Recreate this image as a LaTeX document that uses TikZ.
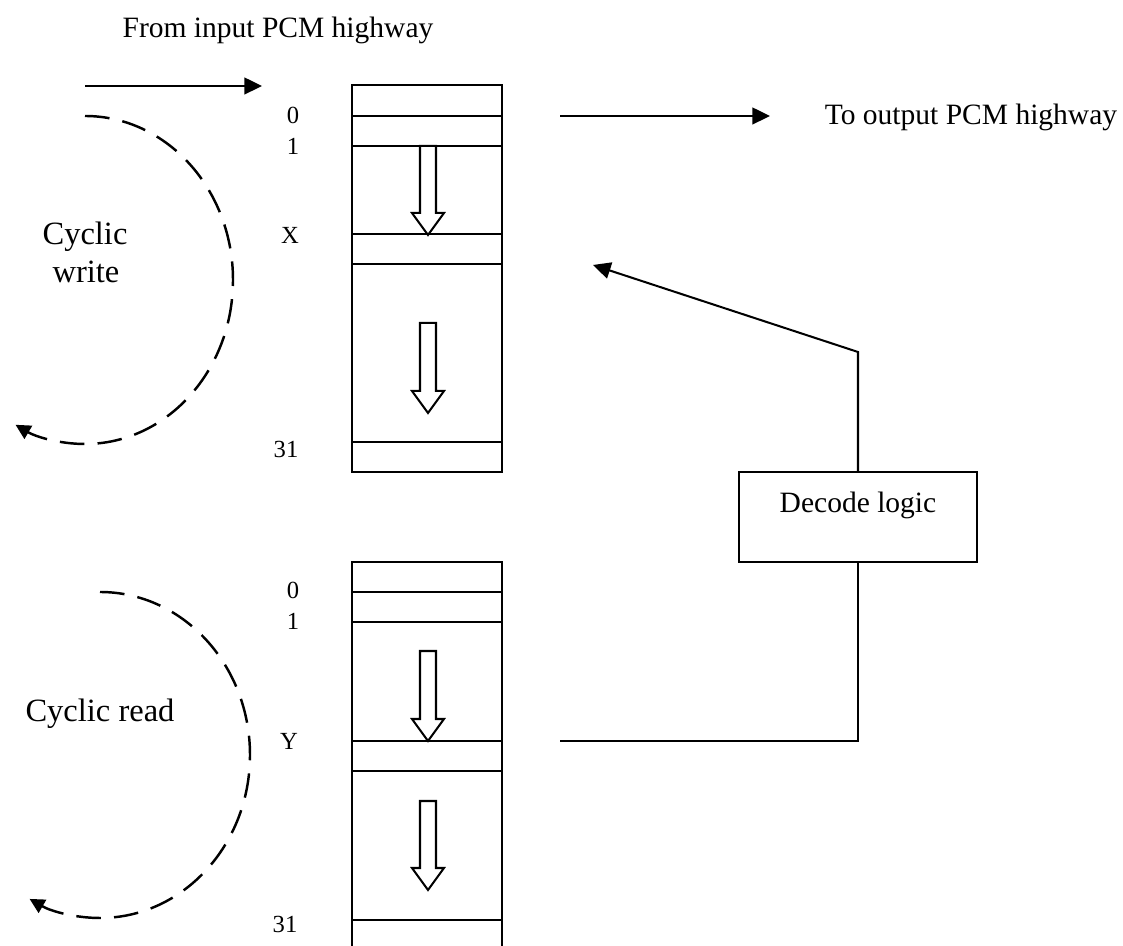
\documentclass[tikz,border=0pt]{standalone}
\usepackage{fontspec}
\setmainfont{Liberation Serif}
\usetikzlibrary{arrows.meta}

\begin{document}
\begin{tikzpicture}[
    x=0.02cm, y=0.02cm,
    line width=1.15pt,
    txt/.style={font=\fontsize{16.8}{20}\selectfont, inner sep=0pt, anchor=base},
    cyc/.style={font=\fontsize{18.5}{22}\selectfont, inner sep=0pt, anchor=base},
    num/.style={font=\fontsize{14}{16}\selectfont, inner sep=0pt},
    mem/.style={rectangle, draw, minimum width=3cm, minimum height=7.74cm, inner sep=0pt},
    logic/.style={rectangle, draw, minimum width=4.76cm, minimum height=1.8cm},
    arr/.style={-{Triangle[length=10pt, width=9.5pt]}},
    ring/.style={line width=1.4pt, dash pattern=on 14pt off 7.5pt, -{Triangle[length=8.5pt, width=8.5pt]}}
]
    \useasboundingbox (0,0) rectangle (1123,946);

    % Memoria de escritura
    \node[mem] (wmem) at (427,667.5) {};
    \foreach \y in {830,800,712,682,504}
        \draw (352,\y) -- (502,\y);

    % Memoria de lectura
    \draw (352,0) |- (502,384) -- (502,0);
    \foreach \y in {354,324,205,175,26}
        \draw (352,\y) -- (502,\y);

    % Flechas huecas
    \foreach \t/\p in {800/711, 623/533, 295/205, 145/56}
        \draw[line join=miter] (420,\t) -- (420,\p+22) -- (412,\p+22) -- (428,\p)
            -- (444,\p+22) -- (436,\p+22) -- (436,\t) -- cycle;

    % Etiquetas
    \node[num] (w0) at (293,831) {0};
    \node[num] (w1) at (293,800) {1};
    \node[num] (wx) at (290,711) {X};
    \node[num] (w31) at (286,497) {31};
    \node[num] (r0) at (293,356) {0};
    \node[num] (r1) at (293,325) {1};
    \node[num] (ry) at (289,205) {Y};
    \node[num] (r31) at (285,22) {31};

    \node[txt] (inlbl) at (278,908) {From input PCM highway};
    \node[txt] (outlbl) at (971,821) {To output PCM highway};
    \node[cyc] (cw1) at (85,701) {Cyclic};
    \node[cyc] (cw2) at (86,663) {write};
    \node[cyc] (cr) at (100,224) {Cyclic read};

    % Entrada y salida
    \coordinate (inA) at (85,860);
    \coordinate (inB) at (262,860);
    \coordinate (outA) at (560,830);
    \coordinate (outB) at (770,830);
    \draw[arr] (inA) -- (inB);
    \draw[arr] (outA) -- (outB);

    % Logica de decodificacion
    \node[logic] (dec) at (858,429) {};
    \node[txt] (dectxt) at (858,433) {Decode logic};
    \coordinate (bend) at (858,594);
    \coordinate (xptr) at (593,681);
    \coordinate (yptr) at (560,205);
    \draw[arr] (dec.north) -- (bend) -- (xptr);
    \draw (dec.south) |- (yptr);

    % Ciclos
    \coordinate (wstart) at (85,830);
    \coordinate (rstart) at (100,354);
    \draw[ring] (wstart) arc[start angle=90, end angle=-118, x radius=148, y radius=164];
    \draw[ring] (rstart) arc[start angle=90, end angle=-118, x radius=150, y radius=163];

\end{tikzpicture}
\end{document}
